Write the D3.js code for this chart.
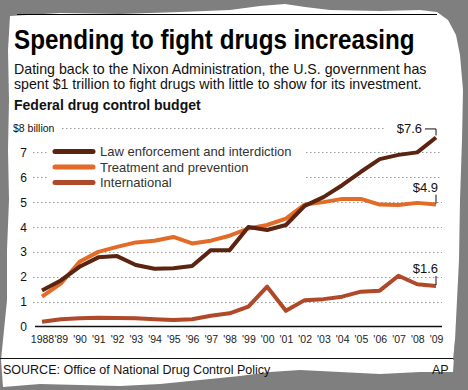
<!DOCTYPE html>
<html><head><meta charset="utf-8">
<script src="https://cdn.jsdelivr.net/npm/d3@7"></script>
<style>
html,body{margin:0;padding:0;background:#7f7f7f;}
svg{display:block;}
text{font-family:"Liberation Sans",Arial,sans-serif;}
</style></head>
<body>
<script>
const years = ["1988","'89","'90","'91","'92","'93","'94","'95","'96","'97","'98","'99","'00","'01","'02","'03","'04","'05","'06","'07","'08","'09"];
const lawEnforcement = [1.45,1.85,2.4,2.78,2.83,2.47,2.32,2.34,2.43,3.07,3.07,4.0,3.88,4.08,4.85,5.2,5.68,6.22,6.73,6.9,7.0,7.6];
const treatment = [1.2,1.72,2.6,3.0,3.2,3.38,3.45,3.6,3.34,3.45,3.65,3.94,4.08,4.34,4.9,5.0,5.13,5.13,4.9,4.88,4.97,4.9];
const international = [0.19,0.29,0.33,0.35,0.34,0.33,0.29,0.26,0.29,0.43,0.53,0.8,1.6,0.63,1.06,1.1,1.2,1.4,1.44,2.04,1.7,1.63];
const seriesNames = ["Law enforcement and interdiction","Treatment and prevention","International"];
const yTicks = [0,1,2,3,4,5,6,7,8];
const endLabels = ["$7.6","$4.9","$1.6"];
const colors = ["#5a2410","#e26b27","#b0482a"];

const W = 468, H = 390;
const svg = d3.select("body").append("svg").attr("width",W).attr("height",H);

// torn paper
const paper = [[10,16],[60,13],[120,14],[180,12],[230,10],[260,6],[285,4],[305,7],[330,10],[380,11],[420,10],[437,12],[448,20],[456,35],[460,55],[463,90],[462,140],[460,200],[459,260],[457,300],[455,340],[453,372],[420,372],[380,374],[340,372],[300,370],[270,372],[240,376],[200,380],[160,384],[120,386],[80,385],[40,384],[3,387],[1,360],[4,330],[7,300],[7,250],[9,200],[8,150],[9,100],[8,50]];
svg.append("path").attr("d", d3.line()(paper)+"Z").attr("fill","#fff");

svg.append("line").attr("x1",17).attr("x2",437).attr("y1",14.5).attr("y2",14.5).attr("stroke","#000").attr("stroke-width",1);

const title = svg.append("text").attr("x",14).attr("y",49).attr("font-size",28).attr("font-weight","bold")
  .attr("font-family","'Liberation Sans Narrow','Liberation Sans',Arial,sans-serif")
  .attr("fill","#000")
  .text("Spending to fight drugs increasing");
const tw = title.node().getComputedTextLength();
title.attr("transform",`translate(14,0) scale(${401/tw},1) translate(-14,0)`);

svg.append("text").attr("x",14).attr("y",74).attr("font-size",14.2).attr("fill","#111")
  .text("Dating back to the Nixon Administration, the U.S. government has");
svg.append("text").attr("x",14).attr("y",89).attr("font-size",14.2).attr("fill","#111")
  .text("spent $1 trillion to fight drugs with little to show for its investment.");
svg.append("text").attr("x",14).attr("y",110).attr("font-size",14).attr("font-weight","bold").attr("fill","#111")
  .text("Federal drug control budget");

const x = d3.scalePoint().domain(years).range([42,436]);
const y = d3.scaleLinear().domain([0,8]).range([326.5,127.5]);

// gridlines
const grid = svg.append("g");
const gridSegs = {
  8:[[62,385]],
  7:[[33,47],[306,442]],
  6:[[33,47],[306,442]]
};
yTicks.filter(d=>d>0).forEach(t=>{
  const segs = gridSegs[t] || [[33,442]];
  segs.forEach(s=>{
    grid.append("line").attr("x1",s[0]).attr("x2",s[1]).attr("y1",Math.round(y(t))+0.5).attr("y2",Math.round(y(t))+0.5)
      .attr("stroke","#999").attr("stroke-width",1).attr("stroke-dasharray","1.5,2.5");
  });
});
// y labels
yTicks.forEach(t=>{
  if(t===8){
    svg.append("text").attr("x",13).attr("y",y(t)+4).attr("font-size",10.5).attr("fill","#111").text("$8 billion");
  } else {
    svg.append("text").attr("x",27).attr("y",y(t)+4.5).attr("font-size",12).attr("text-anchor","end").attr("fill","#111").text(t);
  }
});

// x axis
const xAxis = d3.axisBottom(x).tickSize(0).tickPadding(9);
const gx = svg.append("g").attr("transform",`translate(0,${y(0)})`).call(xAxis);
gx.select(".domain").remove();
gx.selectAll("text").attr("font-size",10.5).attr("fill","#222").attr("font-family","Liberation Sans, Arial, sans-serif");
svg.append("line").attr("x1",35).attr("x2",442).attr("y1",y(0)).attr("y2",y(0)).attr("stroke","#111").attr("stroke-width",1.5);

// lines
const allSeries = [lawEnforcement, treatment, international];
const line = d3.line().x((d,i)=>x(years[i])).y(d=>y(d));
[2,1,0].forEach(k=>{
  svg.append("path").attr("d",line(allSeries[k])).attr("fill","none").attr("stroke",colors[k])
    .attr("stroke-width",4).attr("stroke-linejoin","round").attr("stroke-linecap","butt");
});

// legend
seriesNames.forEach((n,i)=>{
  const ly = 151.5 + i*15.5;
  svg.append("line").attr("x1",55).attr("x2",93).attr("y1",ly).attr("y2",ly).attr("stroke",colors[i])
    .attr("stroke-width",5).attr("stroke-linecap","round");
  svg.append("text").attr("x",100).attr("y",ly+4.5).attr("font-size",13).attr("fill","#333").text(n);
});

// end labels
const lastX = x(years[years.length-1]);
const lastVals = allSeries.map(s=>s[s.length-1]);
svg.append("text").attr("x",422).attr("y",y(lastVals[0])-4).attr("font-size",13).attr("text-anchor","end").attr("fill","#111").text(endLabels[0]);
svg.append("path").attr("d",`M425,${y(lastVals[0])-8.5}H${lastX}V${y(lastVals[0])-2}`).attr("fill","none").attr("stroke","#111").attr("stroke-width",1);
[1,2].forEach(k=>{
  const vy = y(lastVals[k]);
  svg.append("text").attr("x",lastX+2).attr("y",vy-13).attr("font-size",13).attr("text-anchor","end").attr("fill","#111").text(endLabels[k]);
  svg.append("line").attr("x1",lastX).attr("x2",lastX).attr("y1",vy-10).attr("y2",vy-1).attr("stroke","#111").attr("stroke-width",1);
});

// bottom
svg.append("line").attr("x1",0).attr("x2",455).attr("y1",358.5).attr("y2",358.5).attr("stroke","#111").attr("stroke-width",1);
svg.append("text").attr("x",3).attr("y",374).attr("font-size",12.5).attr("fill","#111").text("SOURCE: Office of National Drug Control Policy");
svg.append("text").attr("x",432).attr("y",374).attr("font-size",12.5).attr("fill","#111").text("AP");
svg.append("path").attr("d","M453,360L458,360L460,390L468,390L468,340L455,340Z").attr("fill","#7f7f7f");
</script>
</body></html>
